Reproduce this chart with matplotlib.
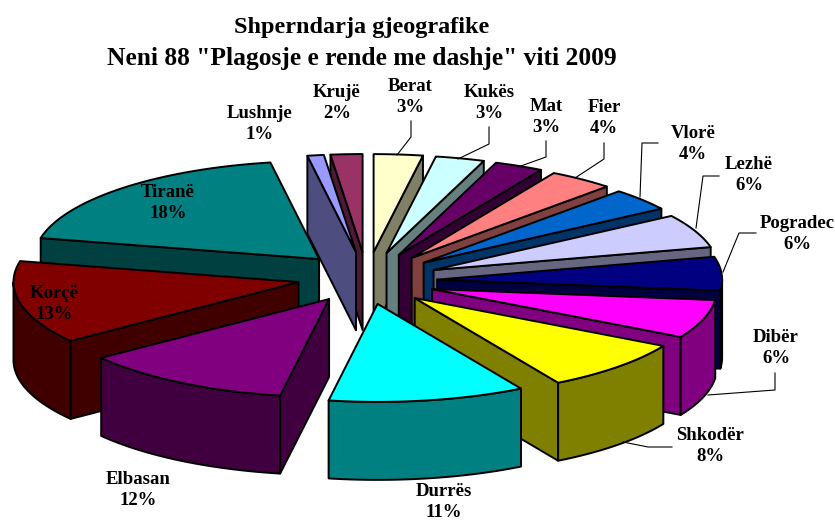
import numpy as np
import matplotlib
matplotlib.use("Agg")
import matplotlib.pyplot as plt
from matplotlib.patches import Polygon

## Data
names = ["Berat", "Kukës", "Mat", "Fier", "Vlorë", "Lezhë", "Pogradec", "Dibër",
         "Shkodër", "Durrës", "Elbasan", "Korçë", "Tiranë", "Lushnje", "Krujë"]
values = [3, 3, 3, 4, 4, 6, 6, 6, 8, 11, 12, 13, 18, 1, 2]
colors = ["#FFFFCC", "#CCFFFF", "#660066", "#FF8080", "#0066CC", "#CCCCFF", "#000080", "#FF00FF",
          "#FFFF00", "#00FFFF", "#800080", "#800000", "#008080", "#9999FF", "#993366"]

## Layout (pixels of the 835x522 picture)
cx, cy = 367, 278
rx, ry = 285, 98
ex, ey = 70, 26
front_shift = 4
depth = 78
draw_order = [14, 13, 12, 11, 10, 0, 1, 2, 3, 4, 5, 6, 7, 8, 9]
label_pos = [(410, 97), (489, 103), (546, 117), (604, 118), (693, 144), (749, 175), (797, 234),
             (776, 348), (710, 446), (444, 502), (138, 490), (54, 304), (168, 203), (260, 124), (337, 103)]
leaders = {
    "Berat": [(411, 121), (411, 137), (397, 155)],
    "Kukës": [(489, 127), (489, 144), (458, 159)],
    "Mat": [(546, 141), (546, 157), (518, 167)],
    "Fier": [(604, 143), (604, 159), (575, 178)],
    "Vlorë": [(658, 143), (642, 143), (640, 197)],
    "Lezhë": [(719, 176), (703, 176), (696, 228)],
    "Pogradec": [(756, 233), (739, 233), (723, 272)],
    "Dibër": [(775, 373), (775, 390), (708, 395)],
    "Shkodër": [(672, 447), (648, 447), (623, 442)],
}
# the picture's perspective pulls the rim round a little: true angle -> drawn angle
warp_true = [0, 105, 155, 195, 240, 285, 350, 360]
warp_drawn = [0, 97, 150, 190.5, 235.5, 283, 351, 360]


def shade(color):
    rgb = matplotlib.colors.to_rgb(color)
    return tuple(c / 2 for c in rgb)


def drawn_angle(t):
    return np.radians(np.interp(t, warp_true, warp_drawn))


def rim(t, ax0, ay0):
    a = drawn_angle(t)
    return np.column_stack([ax0 + rx * np.sin(a), ay0 - ry * np.cos(a)])


def faces_viewer(apex, corner, inner):
    # a cut face shows only if the top of the slice lies above its edge
    dx = corner[0] - apex[0]
    if abs(dx) < 1:
        return False
    line_y = apex[1] + (inner[0] - apex[0]) * (corner[1] - apex[1]) / dx
    return inner[1] < line_y


def draw_slice(ax, start, end, color):
    mid = np.radians((start + end) / 2)
    ax0 = cx + ex * np.sin(mid) + front_shift * max(0, -np.cos(mid))
    ay0 = cy - ey * np.cos(mid)
    apex = np.array([ax0, ay0])
    t = np.linspace(start, end, 200)
    arc = rim(t, ax0, ay0)
    inner = arc[len(arc) // 2]
    down = np.array([0, depth])
    dark = shade(color)
    style = dict(edgecolor="black", linewidth=1.4, joinstyle="round")
    for corner in (arc[0], arc[-1]):
        if faces_viewer(apex, corner, inner):
            ax.add_patch(Polygon([apex, corner, corner + down, apex + down], facecolor=dark, **style))
    front = arc[np.cos(drawn_angle(t)) <= 0]
    if len(front) > 1:
        ax.add_patch(Polygon(np.vstack([front, front[::-1] + down]), facecolor=dark, **style))
    ax.add_patch(Polygon(np.vstack([apex, arc]), facecolor=color, **style))


plt.rcParams["font.family"] = ["Liberation Serif", "DejaVu Serif"]
fig = plt.figure(figsize=(8.35, 5.22), dpi=100)
ax = fig.add_axes([0, 0, 1, 1])
ax.set_xlim(0, 835)
ax.set_ylim(522, 0)
ax.axis("off")

edges = np.cumsum([0] + values) / sum(values) * 360
for i in draw_order:
    draw_slice(ax, edges[i], edges[i + 1], colors[i])

for name, points in leaders.items():
    xs, ys = zip(*points)
    ax.plot(xs, ys, color="black", linewidth=0.8)

for name, value, (x, y) in zip(names, values, label_pos):
    ax.text(x, y, "%s\n%d%%" % (name, value), ha="center", va="center", fontsize=13.5,
            fontweight="bold", linespacing=1.25, color="black")

ax.text(362, 27, "Shperndarja gjeografike", ha="center", va="center", fontsize=17.5, fontweight="bold")
ax.text(362, 59, "Neni 88 \"Plagosje e rende me dashje\" viti 2009", ha="center", va="center",
        fontsize=18.4, fontweight="bold")

fig.savefig("out.png", dpi=100)
